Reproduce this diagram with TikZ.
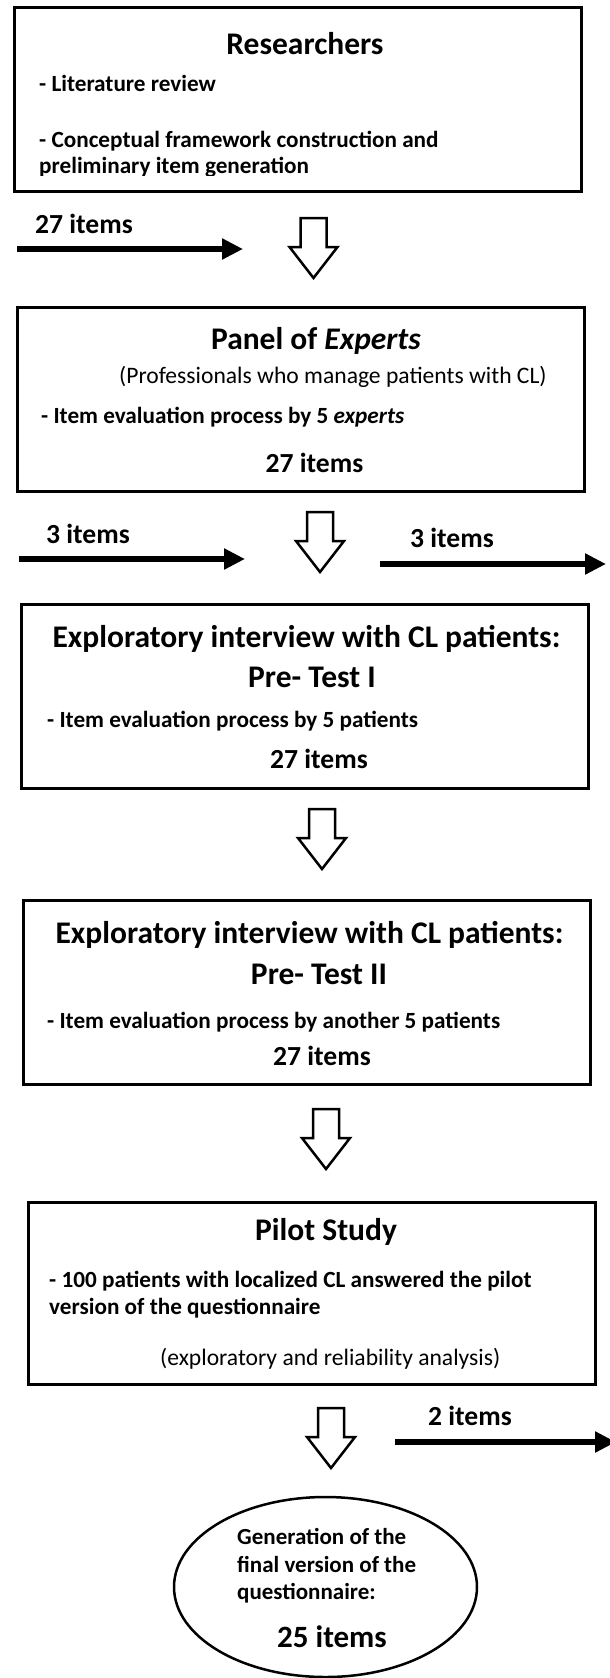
\documentclass[tikz,border=0pt]{standalone}
\usepackage{fontspec}
\setmainfont{Carlito}
\usetikzlibrary{arrows.meta,positioning,shapes.geometric}

\begin{document}
\begin{tikzpicture}[
 x=1pt,y=-1pt,
 box/.style={draw,line width=3pt,minimum width=567pt,minimum height=184pt,inner sep=0pt},
 boxtitle/.style={anchor=base,inner sep=0pt,font=\fontsize{31.5}{34}\selectfont\bfseries},
 boxtext/.style={anchor=base west,inner sep=0pt,font=\fontsize{23.2}{26}\selectfont\bfseries},
 boxnote/.style={anchor=base west,inner sep=0pt,font=\fontsize{23.6}{26}\selectfont},
 itemcount/.style={anchor=base,inner sep=0pt,font=\fontsize{27.6}{30}\selectfont\bfseries},
 itemlabel/.style={anchor=base west,inner sep=0pt,font=\fontsize{27.6}{30}\selectfont\bfseries},
 ovaltext/.style={anchor=base west,inner sep=0pt,font=\fontsize{23}{26}\selectfont\bfseries},
 itemarrow/.style={line width=6pt,-{Triangle[length=21pt,width=20pt]}},
 pics/hollow/.style={code={\draw[line width=2.5pt,fill=white,line join=miter] (-13,0) -- (13,0) -- (13,29) -- (24,29) -- (0,60) -- (-24,29) -- (-13,29) -- cycle;}}
]
\useasboundingbox (0,0) rectangle (610,1678);

% researchers
\node[box] (r) at (297.5,99.5) {};
\node[boxtitle] (rt) at (305,55) {Researchers};
\node[boxtext] (r1) at (39,92) {- Literature review};
\node[boxtext] (r2) at (39,147) {- Conceptual framework construction and};
\begin{scope}
\clip (14,0) rectangle (581,175);
\node[boxtext] (r3) at (39,173) {preliminary item generation};
\end{scope}
\coordinate (s1) at (17,249); \coordinate (e1) at (243,249);
\draw[itemarrow] (s1) -- (e1);
\node[itemlabel] (l1) at (35,233) {27 items};
\pic (a1) at (313.5,218) {hollow};

% experts
\node[box] (p) at (300.5,399.5) {};
\node[boxtitle] (pt) at (316,349) {Panel of \textit{Experts}};
\node[boxnote] (p1) at (119,383) {(Professionals who manage patients with CL)};
\node[boxtext] (p2) at (41,423) {- Item evaluation process by 5 \textit{experts}};
\node[itemcount] (p3) at (314.5,472) {27 items};
\coordinate (s2) at (19,559); \coordinate (e2) at (245,559);
\draw[itemarrow] (s2) -- (e2);
\node[itemlabel] (l2) at (46,543) {3 items};
\coordinate (s3) at (380,564); \coordinate (e3) at (606,564);
\draw[itemarrow] (s3) -- (e3);
\node[itemlabel] (l3) at (410,547) {3 items};
\pic (a2) at (320,512) {hollow};

% pre-test I
\node[box] (t1) at (305,696) {};
\node[boxtitle] (t1a) at (306.5,647) {Exploratory interview with CL patients:};
\node[boxtitle] (t1b) at (312,687) {Pre- Test I};
\node[boxtext] (t1c) at (47,727) {- Item evaluation process by 5 patients};
\node[itemcount] (t1d) at (319,768) {27 items};
\pic (a3) at (322,809) {hollow};

% pre-test II
\node[box] (t2) at (307,992.5) {};
\node[boxtitle] (t2a) at (309.5,943) {Exploratory interview with CL patients:};
\node[boxtitle] (t2b) at (319,984) {Pre- Test II};
\node[boxtext] (t2c) at (47,1028) {- Item evaluation process by another 5 patients};
\node[itemcount] (t2d) at (322,1065) {27 items};
\pic (a4) at (326,1109) {hollow};

% pilot study
\node[box,minimum height=182pt] (s) at (311.5,1293) {};
\node[boxtitle] (sa) at (326,1240) {Pilot Study};
\node[boxtext] (sb) at (49,1287) {- 100 patients with localized CL answered the pilot};
\node[boxtext] (sc) at (49,1314) {version of the questionnaire};
\node[boxnote] (sd) at (160,1365) {(exploratory and reliability analysis)};
\pic (a5) at (331,1408) {hollow};
\coordinate (s4) at (395,1442); \coordinate (e4) at (616,1442);
\draw[itemarrow] (s4) -- (e4);
\node[itemlabel] (l4) at (428,1425) {2 items};

% final version
\node[draw,ellipse,line width=2.5pt,minimum width=303pt,minimum height=180pt,inner sep=0pt] (f) at (325.5,1587) {};
\node[ovaltext] (f1) at (237,1544) {Generation of the};
\node[ovaltext] (f2) at (237,1572) {final version of the};
\node[ovaltext] (f3) at (237,1599) {questionnaire:};
\node[itemlabel,font=\fontsize{31}{34}\selectfont\bfseries] (f4) at (277,1647) {25 items};
\end{tikzpicture}
\end{document}
